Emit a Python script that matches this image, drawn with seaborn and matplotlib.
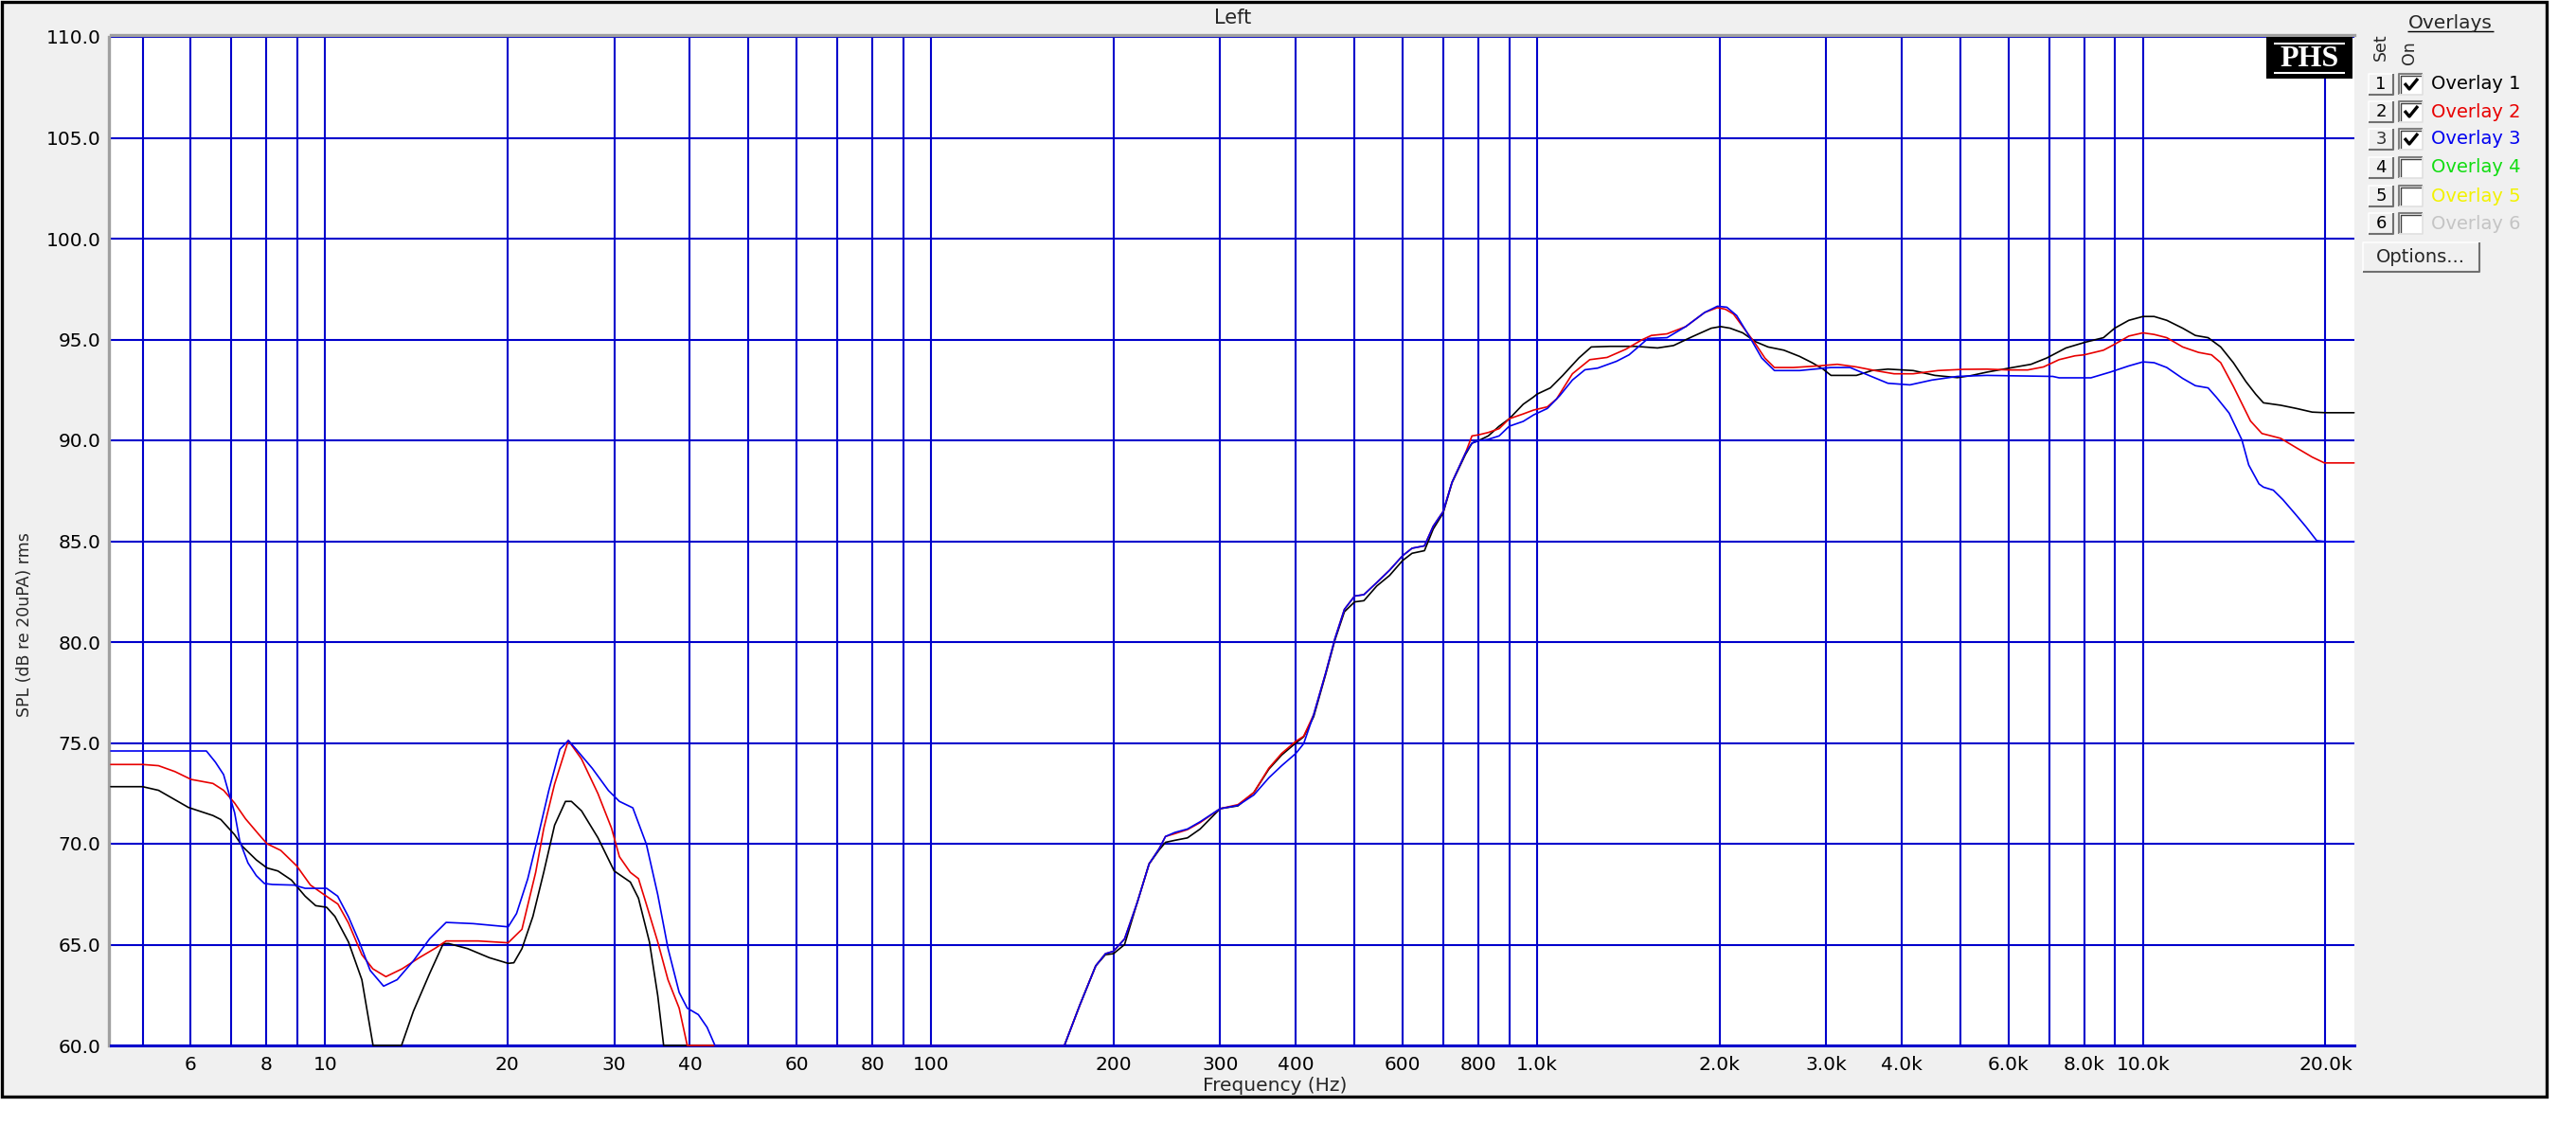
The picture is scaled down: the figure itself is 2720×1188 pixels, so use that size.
import matplotlib
matplotlib.use('Agg')
import numpy as np
import pandas as pd
import matplotlib.pyplot as plt
from matplotlib.patches import Rectangle
from matplotlib.lines import Line2D
import seaborn as sns

W, H = 2720, 1188

# ---- measured curves (Hz, dB SPL) ----
freq_1 = [4.43, 5.0, 5.31, 5.95, 6.53, 6.73, 7.09, 7.31, 7.70, 8.02, 8.36, 8.80, 9.27, 9.65,
          10.06, 10.38, 10.93, 11.5, 12.0, 13.37, 13.99, 14.88, 15.67, 16.0, 17.19, 18.67,
          20.05, 20.49, 21.13, 22.03, 22.96, 23.92, 24.93, 25.5, 26.5, 28.2, 30.0, 31.9, 32.9,
          34.3, 35.4, 36.2, 166, 176, 187, 194, 200, 208.6, 219, 229, 238, 243.7, 252.5,
          264.9, 278, 300, 321, 341, 361, 379, 400, 412, 428, 448, 464, 481, 500, 518, 544,
          571, 600, 622, 652, 674, 700, 724, 762, 781, 800, 831, 866, 900, 949, 987, 1000,
          1052, 1103, 1172, 1229, 1321, 1454, 1581, 1680, 1804, 1939, 2009, 2083, 2185, 2294,
          2406, 2555, 2713, 2844, 2966, 3056, 3366, 3571, 3794, 4176, 4535, 4940, 5183, 5523,
          6011, 6535, 6935, 7463, 8020, 8607, 8980, 9477, 10000, 10432, 10947, 11628, 12203,
          12808, 13436, 14097, 14790, 15345, 15805, 16874, 17916, 19021, 20000, 22300]
spl_1 = [72.83, 72.83, 72.65, 71.8, 71.4, 71.2, 70.45, 69.86, 69.2, 68.8, 68.65, 68.2, 67.4, 66.93,
         66.85, 66.4, 65.13, 63.26, 60.0, 60.0, 61.7, 63.57, 65.05, 65.05, 64.8, 64.35,
         64.07, 64.1, 64.8, 66.4, 68.6, 70.92, 72.1, 72.1, 71.63, 70.3, 68.65, 68.1, 67.3,
         65.13, 62.47, 60.0, 60.0, 62.0, 63.95, 64.5, 64.55, 65.0, 67.1, 69.0, 69.7, 70.07, 70.17,
         70.29, 70.73, 71.74, 71.88, 72.54, 73.7, 74.4, 75.0, 75.3, 76.3, 78.4, 80.1, 81.5, 81.99,
         82.05, 82.78, 83.3, 84.04, 84.4, 84.53, 85.6, 86.4, 87.9, 89.3, 89.86, 89.98, 90.22,
         90.7, 91.07, 91.79, 92.15, 92.29, 92.6, 93.22, 94.08, 94.63, 94.66, 94.66, 94.58, 94.7,
         95.14, 95.56, 95.64, 95.56, 95.33, 94.89, 94.63, 94.47, 94.16, 93.85, 93.53, 93.22,
         93.22, 93.46, 93.53, 93.46, 93.22, 93.11, 93.2, 93.38, 93.58, 93.77, 94.08, 94.58,
         94.86, 95.09, 95.56, 95.95, 96.14, 96.14, 95.95, 95.56, 95.2, 95.09, 94.63, 93.85,
         92.91, 92.29, 91.86, 91.74, 91.58, 91.4, 91.37, 91.37]

freq_2 = [4.43, 5.0, 5.31, 5.65, 6.01, 6.53, 6.80, 7.09, 7.39, 7.78, 8.02, 8.45, 8.98, 9.46, 9.96,
          10.5, 10.93, 11.5, 11.99, 12.6, 13.4, 14.3, 15.2, 15.84, 17.9, 20.05, 21.13, 22.26,
          22.96, 23.92, 25.2, 26.5, 28.2, 29.7, 30.6, 31.9, 32.9, 33.9, 35.4, 36.8, 38.4, 39.6,
          166, 176, 187, 194, 200, 208.6, 219, 229, 238, 243.7, 252.5, 264.9, 278, 300, 321,
          341, 361, 379, 400, 412, 428, 448, 464, 481, 500, 518, 544, 571, 600, 622, 652, 674,
          700, 724, 762, 781, 800, 831, 866, 900, 949, 987, 1040, 1077, 1144, 1222, 1305, 1402,
          1489, 1544, 1639, 1760, 1891, 1985, 2046, 2110, 2185, 2294, 2377, 2465, 2649, 2912,
          3131, 3366, 3612, 3884, 4176, 4589, 5055, 5523, 6011, 6454, 6853, 7270, 7720, 8000,
          8607, 9000, 9477, 10000, 10432, 10947, 11628, 12350, 12974, 13436, 14097, 14610,
          15047, 15713, 16874, 17916, 19021, 19930, 22300]
spl_2 = [73.93, 73.93, 73.87, 73.58, 73.19, 72.99, 72.65, 72.02, 71.24, 70.45, 70.0, 69.67, 68.9,
         67.95, 67.48, 67.01, 66.07, 64.5, 63.8, 63.41, 63.8, 64.35, 64.82, 65.18, 65.18, 65.09,
         65.76, 68.58, 70.77, 72.96, 75.12, 74.2, 72.49, 70.77, 69.36, 68.58, 68.27, 67.0, 65.13,
         63.26, 61.85, 60.0, 60.0, 62.0, 63.95, 64.55, 64.67, 65.28, 67.1, 69.0, 69.76, 70.36,
         70.5, 70.7, 71.05, 71.74, 71.94, 72.54, 73.75, 74.48, 75.08, 75.33, 76.4, 78.47, 80.17,
         81.62, 82.28, 82.35, 82.95, 83.56, 84.28, 84.65, 84.77, 85.74, 86.47, 87.92, 89.37,
         90.22, 90.27, 90.39, 90.58, 91.07, 91.31, 91.5, 91.66, 92.05, 93.3, 94.0, 94.11, 94.52,
         94.98, 95.2, 95.28, 95.64, 96.34, 96.58, 96.5, 96.26, 95.64, 94.78, 94.08, 93.61, 93.61,
         93.69, 93.77, 93.64, 93.46, 93.3, 93.3, 93.46, 93.52, 93.53, 93.49, 93.49, 93.64, 94.0,
         94.19, 94.24, 94.47, 94.78, 95.17, 95.33, 95.25, 95.09, 94.63, 94.36, 94.24, 93.85,
         92.68, 91.74, 90.96, 90.34, 90.1, 89.63, 89.17, 88.88, 88.88]

freq_3 = [4.43, 6.37, 6.59, 6.80, 6.94, 7.09, 7.23, 7.46, 7.70, 7.94, 8.19, 8.89, 9.27, 10.06,
          10.49, 10.93, 11.39, 11.87, 12.49, 13.15, 13.99, 14.88, 15.84, 17.55, 20.05, 20.70,
          21.6, 22.5, 23.4, 24.4, 25.2, 25.97, 27.6, 29.35, 30.6, 32.2, 33.9, 35.4, 36.8, 38.4,
          39.6, 41.3, 42.7, 44.0, 166, 176, 187, 194, 200, 208.6, 219, 229, 238, 243.7, 252.5,
          264.9, 278, 300, 321, 341, 361, 379, 400, 412, 428, 448, 464, 481, 500, 518, 544, 571,
          600, 622, 652, 674, 700, 724, 762, 781, 800, 831, 866, 900, 949, 987, 1040, 1090, 1144,
          1200, 1259, 1353, 1419, 1525, 1639, 1760, 1891, 1985, 2057, 2135, 2239, 2349, 2465,
          2713, 3056, 3286, 3529, 3794, 4125, 4485, 4940, 5523, 7098, 7270, 8206, 8823, 9477,
          10000, 10432, 10947, 11628, 12203, 12808, 13223, 13874, 14563, 14945, 15541, 15805,
          16409, 17018, 17916, 18559, 19350, 20000, 22300]
spl_3 = [74.6, 74.6, 74.05, 73.43, 72.49, 71.55, 70.14, 69.05, 68.42, 68.03, 67.98, 67.95, 67.79,
         67.79, 67.4, 66.38, 65.13, 63.72, 62.94, 63.26, 64.2, 65.29, 66.1, 66.04, 65.88, 66.54,
         68.26, 70.45, 72.64, 74.68, 75.12, 74.68, 73.74, 72.64, 72.1, 71.78, 69.98, 67.48, 64.82,
         62.63, 61.85, 61.53, 60.9, 60.0, 60.0, 62.0, 63.95, 64.55, 64.67, 65.28, 67.1, 69.0,
         69.76, 70.36, 70.56, 70.73, 71.09, 71.74, 71.9, 72.42, 73.27, 73.87, 74.48, 74.96, 76.4,
         78.47, 80.17, 81.62, 82.28, 82.35, 82.95, 83.56, 84.28, 84.65, 84.77, 85.74, 86.47,
         87.92, 89.37, 89.86, 89.98, 90.05, 90.22, 90.7, 90.94, 91.26, 91.58, 92.21, 92.99, 93.5,
         93.58, 93.92, 94.24, 95.05, 95.09, 95.64, 96.34, 96.65, 96.6, 96.19, 95.17, 94.08, 93.46,
         93.46, 93.61, 93.61, 93.22, 92.83, 92.75, 92.99, 93.17, 93.22, 93.17, 93.1, 93.1, 93.38,
         93.69, 93.89, 93.85, 93.61, 93.07, 92.71, 92.6, 92.13, 91.35, 90.02, 88.78, 87.84,
         87.68, 87.53, 87.06, 86.28, 85.73, 85.03, 84.98, 84.98]

OVERLAY_NAMES = ['Overlay 1', 'Overlay 2', 'Overlay 3', 'Overlay 4', 'Overlay 5', 'Overlay 6']
OVERLAY_COLORS = ['#000000', '#E80000', '#0000F0', '#11DD11', '#F2F200', '#C4C4C4']
OVERLAY_ON = [True, True, True, False, False, False]

GRID_FREQS = [5, 6, 7, 8, 9, 10, 20, 30, 40, 50, 60, 70, 80, 90, 100, 200, 300, 400, 500, 600,
              700, 800, 900, 1000, 2000, 3000, 4000, 5000, 6000, 7000, 8000, 9000, 10000, 20000]
GRID_LABELS = ['', '6', '', '8', '', '10', '20', '30', '40', '', '60', '', '80', '', '100',
               '200', '300', '400', '', '600', '', '800', '', '1.0k', '2.0k', '3.0k', '4.0k', '',
               '6.0k', '', '8.0k', '', '10.0k', '20.0k']
SPL_TICKS = [60, 65, 70, 75, 80, 85, 90, 95, 100, 105, 110]

GRID_BLUE = '#0000CC'
PANEL = '#F0F0F0'

sns.set_style('white')
plt.rcParams['font.family'] = ['DejaVu Sans']


def fx(x):
    return x / W


def fy(y):
    return 1 - y / H


def box(fig, x0, y0, x1, y1, fc, ec='none', lw=0, z=2):
    fig.add_artist(Rectangle((fx(x0), fy(y1)), (x1 - x0) / W, (y1 - y0) / H,
                             transform=fig.transFigure, fc=fc, ec=ec, lw=lw, zorder=z))


def edge(fig, xs, ys, color, lw=1.1, z=3):
    fig.add_artist(Line2D([fx(x) for x in xs], [fy(y) for y in ys], color=color, lw=lw,
                          transform=fig.transFigure, zorder=z, solid_capstyle='butt'))


def raised(fig, x0, y0, x1, y1):
    box(fig, x0, y0, x1, y1, PANEL)
    edge(fig, [x0, x0, x1], [y1, y0, y0], 'white')
    edge(fig, [x0, x1, x1], [y1, y1, y0], '#707070', lw=1.5)


def sunken(fig, x0, y0, x1, y1):
    box(fig, x0, y0, x1, y1, 'white')
    edge(fig, [x0, x0, x1], [y1, y0, y0], '#808080', lw=1.5)
    edge(fig, [x0 + 2, x0 + 2, x1 - 1], [y1 - 1, y0 + 2, y0 + 2], '#404040', lw=1.0)
    edge(fig, [x0, x1, x1], [y1, y1, y0], '#E0E0E0', lw=1.2)


fig = plt.figure(figsize=(W / 100, H / 100), dpi=100, facecolor='white')

# window background
fig.add_artist(Rectangle((fx(1.5), fy(1158)), 2687 / W, 1156 / H, transform=fig.transFigure,
                         fc=PANEL, ec='black', lw=2.4, zorder=-10))

ax = fig.add_axes([fx(117), fy(1104), (2486 - 117) / W, (1104 - 39) / H])
ax.set_facecolor('white')
ax.set_xscale('log')

frames = []
for name, f, s in zip(OVERLAY_NAMES[:3], [freq_1, freq_2, freq_3], [spl_1, spl_2, spl_3]):
    frames.append(pd.DataFrame({'freq': f, 'spl': s, 'overlay': name}))
df = pd.concat(frames, ignore_index=True)

sns.lineplot(data=df, x='freq', y='spl', hue='overlay', hue_order=OVERLAY_NAMES[:3],
             palette=OVERLAY_COLORS[:3], estimator=None, sort=False, legend=False,
             lw=1.2, ax=ax, clip_on=False, zorder=4)

ax.set_xlim(4.43, 22330)
ax.set_ylim(60, 110)
ax.set_xticks(GRID_FREQS, labels=GRID_LABELS)
ax.xaxis.set_minor_locator(matplotlib.ticker.NullLocator())
ax.set_yticks(SPL_TICKS, labels=[f'{v:.1f}' for v in SPL_TICKS])
ax.set_xlabel('')
ax.set_ylabel('')
ax.grid(True, which='major', color=GRID_BLUE, lw=1.5)
for f, gl in zip(GRID_FREQS, ax.get_xgridlines()):
    if f in (700, 900):
        gl.set_linewidth(0.8)
for v, gl in zip(SPL_TICKS, ax.get_ygridlines()):
    if v == 100:
        gl.set_linewidth(0.8)

ax.spines['right'].set_visible(False)
for side in ('left', 'top'):
    ax.spines[side].set_color('#A0A0A0')
    ax.spines[side].set_linewidth(2.4)
    ax.spines[side].set_position(('outward', 1.5))
ax.spines['bottom'].set_color(GRID_BLUE)
ax.spines['bottom'].set_linewidth(2.2)
ax.tick_params(axis='both', direction='out', length=3, width=1, color='black',
               labelsize=14.5, labelcolor='black')
ax.tick_params(axis='x', pad=5)
ax.tick_params(axis='y', pad=3)

fig.text(fx(1302), fy(19), 'Left', ha='center', va='center', fontsize=15)
fig.text(fx(1346), fy(1146), 'Frequency (Hz)', ha='center', va='center', fontsize=14.5)
fig.text(fx(26), fy(660), 'SPL (dB re 20uPA) rms', ha='center', va='center',
         rotation=90, fontsize=12.5)

# PHS logo
box(fig, 2393, 39, 2484, 83, 'black', z=5)
edge(fig, [2401, 2476], [45.5, 45.5], 'white', lw=1.5, z=6)
edge(fig, [2401, 2476], [77, 77], 'white', lw=1.5, z=6)
fig.text(fx(2438.5), fy(62), 'PHS', ha='center', va='center', color='white',
         fontsize=23, fontweight='bold', family='Liberation Serif', zorder=7)

# overlay panel
fig.text(fx(2587), fy(24), 'Overlays', ha='center', va='center', fontsize=14.5)
edge(fig, [2542, 2633], [33, 33], 'black', lw=1.0)
fig.text(fx(2514), fy(64), 'Set', ha='center', va='bottom', rotation=90, fontsize=12.5)
fig.text(fx(2544), fy(68), 'On', ha='center', va='bottom', rotation=90, fontsize=12.5)

row_y = [89, 118, 147, 177, 207, 236]
for i, (name, col, on, yc) in enumerate(zip(OVERLAY_NAMES, OVERLAY_COLORS, OVERLAY_ON, row_y)):
    raised(fig, 2501, yc - 11, 2527, yc + 11)
    fig.text(fx(2514), fy(yc), str(i + 1), ha='center', va='center', fontsize=13,
             color='#303030' if i == 2 else 'black', zorder=4)
    sunken(fig, 2533, yc - 11, 2558, yc + 11)
    if on:
        edge(fig, [2539, 2544, 2553], [yc - 1, yc + 5, yc - 6], 'black', lw=2.4, z=4)
    fig.text(fx(2567), fy(yc), name, ha='left', va='center', fontsize=14, color=col)

raised(fig, 2495, 256, 2618, 287)
fig.text(fx(2556), fy(271.5), 'Options...', ha='center', va='center', fontsize=14, zorder=4)

fig.savefig('out.png', dpi=100, facecolor='white')
